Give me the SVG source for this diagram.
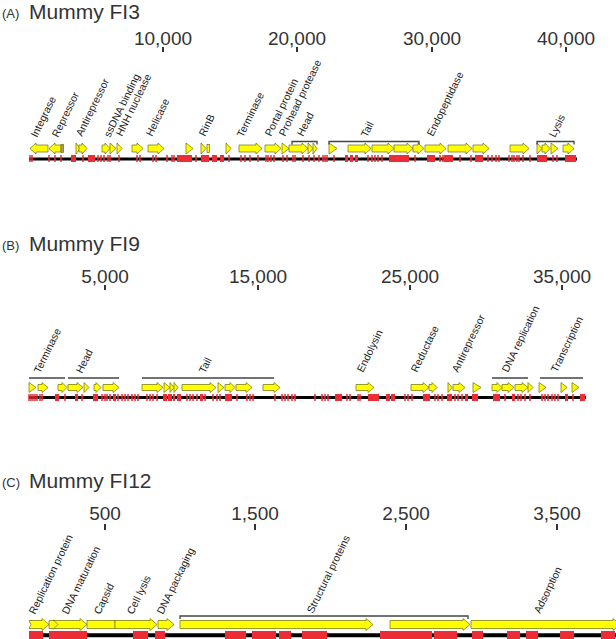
<svg xmlns="http://www.w3.org/2000/svg" width="616" height="639" viewBox="0 0 616 639">
<style>
text{font-family:"Liberation Sans",Arial,sans-serif;fill:#333}
.ttl{font-size:21px}
.pl{font-size:13px}
.tk{font-size:19px;text-anchor:middle}
.lb{font-size:10.5px;fill:#222}
.tick{stroke:#333;stroke-width:2}
.gl{stroke:#000;stroke-width:3}
.g polygon,.g rect{fill:#ffff00;stroke:#6e6e00;stroke-width:0.7}
.rt{stroke:#ec2d36;stroke-width:1.5;fill:none}
.rb{fill:#ec2d36}
.br{stroke:#444;stroke-width:1.3;fill:none}
</style>

<!-- Panel A -->
<g id="panel-a">
<g id="a-title"><text class="pl" x="2" y="18">(A)</text><text class="ttl" x="29" y="19">Mummy FI3</text></g>
<g id="a-axis">
<text class="tk" x="163" y="44.5">10,000</text><text class="tk" x="297" y="44.5">20,000</text><text class="tk" x="432" y="44.5">30,000</text><text class="tk" x="566" y="44.5">40,000</text>
<path class="tick" d="M163 47v5M297 47v5M432 47v5M566 47v5"/>
</g>
<g id="a-genome">
<line class="gl" x1="29" y1="159" x2="577" y2="159"/>
<path class="rt" d="M30 155v7M32 155v7M49 155v7M55 155v7M61 155v7M83 155v7M98 155v7M101 155v7M104 155v7M108 155v7M110 155v7M119 155v7M137 155v7M140 155v7M153 155v7M156 155v7M167 155v7M172 155v7M174 155v7M196 155v7M229 155v7M241 155v7M245 155v7M250 155v7M258 155v7M266 155v7M268 155v7M271 155v7M274 155v7M283 155v7M287 155v7M293 155v7M295 155v7M303 155v7M309 155v7M314 155v7M319 155v7M323 155v7M325 155v7M327 155v7M334 155v7M368 155v7M372 155v7M375 155v7M378 155v7M382 155v7M415 155v7M440 155v7M443 155v7M460 155v7M471 155v7M488 155v7M492 155v7M496 155v7M499 155v7M509 155v7M512 155v7M514 155v7M517 155v7M519 155v7M523 155v7M530 155v7M553 155v7M557 155v7"/>
<g class="rb">
<rect x="71" y="155" width="5" height="7"/><rect x="88" y="155" width="7" height="7"/><rect x="177" y="155" width="15" height="7"/><rect x="201" y="155" width="8" height="7"/><rect x="212" y="155" width="5" height="7"/><rect x="220" y="155" width="4" height="7"/><rect x="345" y="155" width="3" height="7"/><rect x="350" y="155" width="3" height="7"/><rect x="355" y="155" width="3" height="7"/><rect x="389" y="155" width="20" height="7"/><rect x="427" y="155" width="8" height="7"/><rect x="444" y="155" width="9" height="7"/><rect x="475" y="155" width="8" height="7"/><rect x="537" y="155" width="10" height="7"/><rect x="565" y="155" width="11" height="7"/>
</g>
</g>
<g id="a-genes" class="g">
<polygon points="48,145 36,145 36,143 30,148.5 36,154 36,152 48,152"/>
<polygon points="61,145 55,145 55,143 49,148.5 55,154 55,152 61,152"/>
<rect x="61" y="144.5" width="2.5" height="8" style="fill:#a8a060"/>
<polygon points="76,143 80,148.5 76,154"/>
<polygon points="79,145 82,145 82,143 87,148.5 82,154 82,152 79,152"/>
<polygon points="102,145 105,145 105,143 110,148.5 105,154 105,152 102,152"/>
<polygon points="110,143 116,148.5 110,154"/>
<polygon points="117,143 122,148.5 117,154"/>
<polygon points="132,145 137,145 137,143 143,148.5 137,154 137,152 132,152"/>
<polygon points="148,145 158,145 158,143 164,148.5 158,154 158,152 148,152"/>
<polygon points="186,143 193,148.5 186,154"/>
<polygon points="201,143 206,148.5 201,154"/>
<rect x="207" y="144.5" width="2.5" height="8"/>
<polygon points="226,143 231,148.5 226,154"/>
<polygon points="239,145 256,145 256,143 262,148.5 256,154 256,152 239,152"/>
<polygon points="265,145 275,145 275,143 281,148.5 275,154 275,152 265,152"/>
<polygon points="282,143 289,148.5 282,154"/>
<polygon points="289,145 302,145 302,143 308,148.5 302,154 302,152 289,152"/>
<polygon points="308,143 313,148.5 308,154"/>
<polygon points="313,143 317,148.5 313,154"/>
<polygon points="329,143 337,148.5 329,154"/>
<polygon points="348,145 365,145 365,143 371,148.5 365,154 365,152 348,152"/>
<polygon points="372,145 388,145 388,143 394,148.5 388,154 388,152 372,152"/>
<polygon points="394,145 407,145 407,143 413,148.5 407,154 407,152 394,152"/>
<polygon points="413,145 418,145 418,143 424,148.5 418,154 418,152 413,152"/>
<polygon points="425,145 440,145 440,143 446,148.5 440,154 440,152 425,152"/>
<polygon points="448,145 466,145 466,143 472,148.5 466,154 466,152 448,152"/>
<polygon points="473,145 483,145 483,143 489,148.5 483,154 483,152 473,152"/>
<polygon points="510,145 523,145 523,143 529,148.5 523,154 523,152 510,152"/>
<polygon points="537,143 542,148.5 537,154"/>
<polygon points="542,145 545,145 545,143 550,148.5 545,154 545,152 542,152"/>
<polygon points="551,143 558,148.5 551,154"/>
<polygon points="563,145 568,145 568,143 574,148.5 568,154 568,152 563,152"/>
</g>
<g id="a-brackets">
<path class="br" d="M292 144.5V141.5H317V144.5M329 144.5V141.5H419V144.5M537 144.5V141.5H574V144.5"/>
</g>
<g id="a-labels">
<text class="lb" transform="translate(37,138) rotate(-64)">Integrase</text>
<text class="lb" transform="translate(58,138) rotate(-64)">Repressor</text>
<text class="lb" transform="translate(82,137) rotate(-64)">Antirepressor</text>
<text class="lb" transform="translate(110,138) rotate(-64)">ssDNA binding</text>
<text class="lb" transform="translate(122,137) rotate(-64)">HNH nuclease</text>
<text class="lb" transform="translate(152,137) rotate(-64)">Helicase</text>
<text class="lb" transform="translate(205,137) rotate(-64)">RinB</text>
<text class="lb" transform="translate(243,138) rotate(-64)">Terminase</text>
<text class="lb" transform="translate(271,137) rotate(-64)">Portal protein</text>
<text class="lb" transform="translate(285,137) rotate(-64)">Prohead protease</text>
<text class="lb" transform="translate(303,137) rotate(-64)">Head</text>
<text class="lb" transform="translate(367,138) rotate(-64)">Tail</text>
<text class="lb" transform="translate(433,137) rotate(-64)">Endopeptidase</text>
<text class="lb" transform="translate(555,138) rotate(-64)">Lysis</text>
</g>
</g>

<!-- Panel B -->
<g id="panel-b">
<g id="b-title"><text class="pl" x="2" y="250">(B)</text><text class="ttl" x="29" y="250.5">Mummy FI9</text></g>
<g id="b-axis">
<text class="tk" x="105" y="282.5">5,000</text><text class="tk" x="258" y="282.5">15,000</text><text class="tk" x="410" y="282.5">25,000</text><text class="tk" x="562" y="282.5">35,000</text>
<path class="tick" d="M105 285v5M258 285v5M410 285v5M562 285v5"/>
</g>
<g id="b-genome">
<line class="gl" x1="29" y1="397.5" x2="586" y2="397.5"/>
<path class="rt" d="M29 394v7M31 394v7M33 394v7M35 394v7M37 394v7M40 394v7M42 394v7M65 394v7M82 394v7M102 394v7M105 394v7M107 394v7M110 394v7M118 394v7M122 394v7M125 394v7M128 394v7M132 394v7M135 394v7M138 394v7M147 394v7M150 394v7M153 394v7M157 394v7M187 394v7M190 394v7M193 394v7M197 394v7M205 394v7M213 394v7M217 394v7M220 394v7M237 394v7M247 394v7M250 394v7M253 394v7M275 394v7M282 394v7M285 394v7M288 394v7M292 394v7M295 394v7M315 394v7M322 394v7M325 394v7M328 394v7M347 394v7M350 394v7M358 394v7M360 394v7M405 394v7M408 394v7M412 394v7M435 394v7M438 394v7M442 394v7M455 394v7M458 394v7M462 394v7M505 394v7M518 394v7M521 394v7M525 394v7M530 394v7M542 394v7M545 394v7M548 394v7M552 394v7M555 394v7M558 394v7M573 394v7"/>
<g class="rb">
<rect x="55" y="394" width="4" height="7"/><rect x="75" y="394" width="3" height="7"/><rect x="93" y="394" width="5" height="7"/><rect x="113" y="394" width="3" height="7"/><rect x="163" y="394" width="4" height="7"/><rect x="168" y="394" width="4" height="7"/><rect x="173" y="394" width="2" height="7"/><rect x="177" y="394" width="4" height="7"/><rect x="200" y="394" width="3" height="7"/><rect x="225" y="394" width="7" height="7"/><rect x="335" y="394" width="7" height="7"/><rect x="368" y="394" width="11" height="7"/><rect x="386" y="394" width="4" height="7"/><rect x="391" y="394" width="4" height="7"/><rect x="423" y="394" width="7" height="7"/><rect x="447" y="394" width="5" height="7"/><rect x="465" y="394" width="3" height="7"/><rect x="472" y="394" width="6" height="7"/><rect x="493" y="394" width="7" height="7"/><rect x="512" y="394" width="3" height="7"/><rect x="565" y="394" width="3" height="7"/><rect x="580" y="394" width="5" height="7"/>
</g>
</g>
<g id="b-genes" class="g">
<polygon points="29,382.5 36,387.5 29,392.5"/>
<polygon points="38,384.5 42,384.5 42,382.5 48,387.5 42,392.5 42,390.5 38,390.5"/>
<polygon points="58,384.5 62,384.5 62,382.5 67,387.5 62,392.5 62,390.5 58,390.5"/>
<polygon points="68,384.5 77,384.5 77,382.5 83,387.5 77,392.5 77,390.5 68,390.5"/>
<polygon points="84,382.5 89,387.5 84,392.5"/>
<polygon points="94,384.5 96,384.5 96,382.5 101,387.5 96,392.5 96,390.5 94,390.5"/>
<polygon points="103,384.5 113,384.5 113,382.5 119,387.5 113,392.5 113,390.5 103,390.5"/>
<polygon points="142,384.5 157,384.5 157,382.5 163,387.5 157,392.5 157,390.5 142,390.5"/>
<polygon points="164,382.5 170,387.5 164,392.5"/>
<polygon points="170,382.5 174,387.5 170,392.5"/>
<polygon points="174,382.5 178,387.5 174,392.5"/>
<polygon points="182,384.5 210,384.5 210,382.5 216,387.5 210,392.5 210,390.5 182,390.5"/>
<polygon points="218,382.5 224,387.5 218,392.5"/>
<polygon points="225,384.5 230,384.5 230,382.5 235,387.5 230,392.5 230,390.5 225,390.5"/>
<polygon points="236,384.5 246,384.5 246,382.5 252,387.5 246,392.5 246,390.5 236,390.5"/>
<polygon points="263,384.5 274,384.5 274,382.5 280,387.5 274,392.5 274,390.5 263,390.5"/>
<polygon points="356,384.5 368,384.5 368,382.5 374,387.5 368,392.5 368,390.5 356,390.5"/>
<polygon points="411,384.5 423,384.5 423,382.5 429,387.5 423,392.5 423,390.5 411,390.5"/>
<polygon points="429,384.5 432,384.5 432,382.5 437,387.5 432,392.5 432,390.5 429,390.5"/>
<polygon points="448,382.5 452,387.5 448,392.5"/>
<polygon points="453,384.5 459,384.5 459,382.5 465,387.5 459,392.5 459,390.5 453,390.5"/>
<polygon points="473,382.5 481,387.5 473,392.5"/>
<polygon points="492,384.5 497,384.5 497,382.5 502,387.5 497,392.5 497,390.5 492,390.5"/>
<polygon points="502,384.5 508,384.5 508,382.5 514,387.5 508,392.5 508,390.5 502,390.5"/>
<polygon points="515,384.5 522,384.5 522,382.5 528,387.5 522,392.5 522,390.5 515,390.5"/>
<polygon points="528,382.5 533,387.5 528,392.5"/>
<polygon points="539,382.5 546,387.5 539,392.5"/>
<polygon points="561,382.5 567,387.5 561,392.5"/>
<polygon points="572,382.5 579,387.5 572,392.5"/>
</g>
<g id="b-brackets">
<path class="br" d="M29 378H65M68 378H119M142 378H274M492 378H528M540 378H583"/>
</g>
<g id="b-labels">
<text class="lb" transform="translate(40,374) rotate(-64)">Terminase</text>
<text class="lb" transform="translate(82,374) rotate(-64)">Head</text>
<text class="lb" transform="translate(205,374) rotate(-64)">Tail</text>
<text class="lb" transform="translate(363,373) rotate(-64)">Endolysin</text>
<text class="lb" transform="translate(417,373) rotate(-64)">Reductase</text>
<text class="lb" transform="translate(458,373) rotate(-64)">Antirepressor</text>
<text class="lb" transform="translate(508,373) rotate(-64)">DNA replication</text>
<text class="lb" transform="translate(557,373) rotate(-64)">Transcription</text>
</g>
</g>

<!-- Panel C -->
<g id="panel-c">
<g id="c-title"><text class="pl" x="2" y="487">(C)</text><text class="ttl" x="29" y="487.5">Mummy FI12</text></g>
<g id="c-axis">
<text class="tk" x="105" y="520">500</text><text class="tk" x="255" y="520">1,500</text><text class="tk" x="406" y="520">2,500</text><text class="tk" x="557" y="520">3,500</text>
<path class="tick" d="M105 524v6M255 524v6M406 524v6M557 524v6"/>
</g>
<g id="c-genome">
<line x1="29" y1="635.3" x2="616" y2="635.3" stroke="#000" stroke-width="4"/>
<g class="rb">
<rect x="29" y="631" width="14" height="8"/><rect x="49" y="631" width="38" height="8"/><rect x="133" y="631" width="15" height="8"/><rect x="155" y="631" width="10" height="8"/><rect x="225" y="631" width="21" height="8"/><rect x="252" y="631" width="24" height="8"/><rect x="279" y="631" width="12" height="8"/><rect x="302" y="631" width="25" height="8"/><rect x="380" y="631" width="52" height="8"/><rect x="434" y="631" width="23" height="8"/><rect x="472" y="631" width="11" height="8"/><rect x="507" y="631" width="13" height="8"/><rect x="526" y="631" width="12" height="8"/><rect x="560" y="631" width="14" height="8"/><rect x="601" y="631" width="14" height="8"/>
</g>
</g>
<g id="c-genes" class="g">
<polygon points="29,620.5 42,620.5 42,618.5 49,624.5 42,630.5 42,628.5 29,628.5 31,624.5"/>
<polygon points="49,620.5 80,620.5 80,618.5 87,624.5 80,630.5 80,628.5 49,628.5"/>
<polyline points="53,619.5 58,624.5 53,629.5" style="fill:none;stroke:#6e6e00;stroke-width:0.7"/>
<rect x="87" y="620.5" width="28" height="8"/>
<polygon points="115,620.5 150,620.5 150,618.5 157,624.5 150,630.5 150,628.5 115,628.5"/>
<polygon points="158,620.5 167,620.5 167,618.5 174,624.5 167,630.5 167,628.5 158,628.5"/>
<polygon points="180,620.5 366,620.5 366,618.5 373,624.5 366,630.5 366,628.5 180,628.5"/>
<polygon points="390,620.5 463,620.5 463,618.5 470,624.5 463,630.5 463,628.5 390,628.5"/>
<polygon points="471,620.5 613,620.5 613,618.5 620,624.5 613,630.5 613,628.5 471,628.5"/>
</g>
<g id="c-brackets">
<path class="br" d="M180 619V616H468V619"/>
</g>
<g id="c-labels">
<text class="lb" transform="translate(35,615) rotate(-64)">Replication protein</text>
<text class="lb" transform="translate(68,615) rotate(-64)">DNA maturation</text>
<text class="lb" transform="translate(100,615) rotate(-64)">Capsid</text>
<text class="lb" transform="translate(133,615) rotate(-64)">Cell lysis</text>
<text class="lb" transform="translate(163,615) rotate(-64)">DNA packaging</text>
<text class="lb" transform="translate(313,614) rotate(-64)">Structural proteins</text>
<text class="lb" transform="translate(540,614) rotate(-64)">Adsorption</text>
</g>
</g>
</svg>
